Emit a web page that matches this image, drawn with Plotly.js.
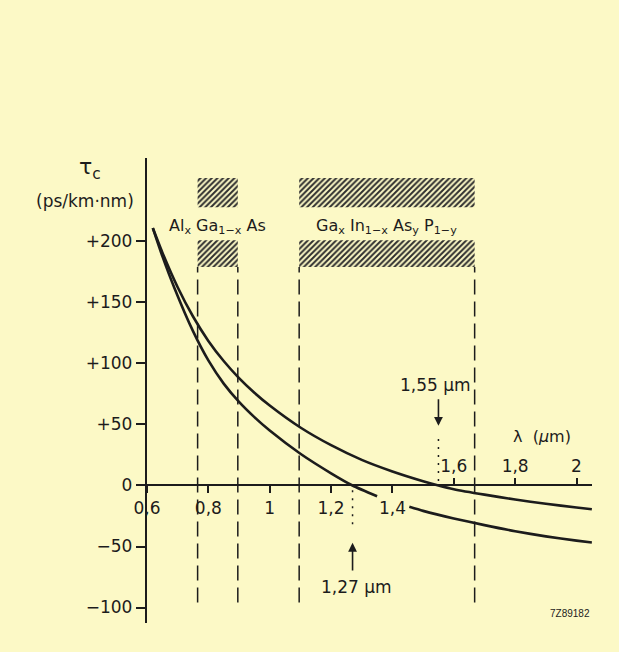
<!DOCTYPE html>
<html>
<head>
<meta charset="utf-8">
<script src="https://cdn.plot.ly/plotly-3.0.1.min.js"></script>
<style>
  html, body { margin: 0; padding: 0; background: #fcf9c6; }
  #chart { width: 619px; height: 652px; }
</style>
</head>
<body>
<div id="chart"></div>
<script>
// ---- data ----
// curve with zero dispersion at 1.27 µm (gap where the "1,4" label sits)
const lambdaA = [0.619, 0.65, 0.69, 0.75, 0.80, 0.85, 0.90, 0.95, 1.00, 1.10, 1.20, 1.27, 1.35, 1.40, 1.455, 1.50, 1.60, 1.70, 1.80, 1.90, 2.00, 2.05];
const tauA    = [211, 188, 161.5, 126.5, 102.5, 83.5, 68.5, 56, 45, 26, 10, 0, -8.8, null, -17.5, -20.8, -27, -32.5, -37.5, -41.7, -45.2, -46.7];
// curve with zero dispersion at 1.55 µm
const lambdaB = [0.619, 0.65, 0.70, 0.75, 0.80, 0.85, 0.90, 0.95, 1.00, 1.10, 1.20, 1.30, 1.40, 1.50, 1.55, 1.60, 1.70, 1.80, 1.90, 2.00, 2.05];
const tauB    = [211, 191, 162.5, 138.5, 118.5, 102, 88, 76, 65.5, 47.5, 33, 21, 11.5, 3.5, 0, -3, -7.5, -11.5, -15, -18, -19.5];

// material wavelength windows (µm)
const materialNames = ["Al<sub>x</sub> Ga<sub>1−x</sub> As", "Ga<sub>x</sub> In<sub>1−x</sub> As<sub>y</sub> P<sub>1−y</sub>"];
const materialRanges = [[0.765, 0.896], [1.096, 1.668]];
const hatchBands = [[228, 252], [179, 201]];      // τ-extent of hatched bands
const windowLineExtent = [-96, 179];               // dashed window lines
const zeroDispersion = [1.27, 1.55];
const zeroLabels = ["1,27 µm", "1,55 µm"];

const xTicksBelow = [0.6, 0.8, 1.0, 1.2, 1.4];
const xTickTextBelow = ["0,6", "0,8", "1", "1,2", "1,4"];
const xTicksAbove = [1.6, 1.8, 2.0];
const xTickTextAbove = ["1,6", "1,8", "2"];
const yTicks = [-100, -50, 0, 50, 100, 150, 200];
const yTickText = ["−100", "−50", "0", "+50", "+100", "+150", "+200"];

// ---- styling ----
const BG = "#fcf9c6";
const INK = "#1c1c1c";
const FONT = "DejaVu Sans, Liberation Sans, Arial, sans-serif";
const xRange = [0.6, 2.0505];
const yRange = [-112.7, 268.4];
const xAxisPos = (0 - yRange[0]) / (yRange[1] - yRange[0]);

const traces = [];

// hatched bands
materialRanges.forEach(r => {
  hatchBands.forEach(b => {
    traces.push({
      type: "bar", x: [(r[0] + r[1]) / 2], y: [b[1] - b[0]], base: [b[0]], width: [r[1] - r[0]],
      xaxis: "x", yaxis: "y",
      marker: { color: BG, line: { width: 0 },
        pattern: { shape: "/", fgcolor: "#2e2e2e", bgcolor: BG, size: 4, solidity: 0.5, fillmode: "replace" } },
      hoverinfo: "skip", showlegend: false
    });
  });
});

// dashed window boundary lines
materialRanges.forEach(r => {
  r.forEach(xv => {
    traces.push({
      type: "scatter", mode: "lines", x: [xv, xv], y: windowLineExtent,
      line: { color: INK, width: 1.5, dash: "15px,7px" }, hoverinfo: "skip", showlegend: false
    });
  });
});

// dotted markers at zero dispersion wavelengths
traces.push({ type: "scatter", mode: "lines", x: [zeroDispersion[1], zeroDispersion[1]], y: [38, 2],
  line: { color: INK, width: 1.5, dash: "2px,6px" }, hoverinfo: "skip", showlegend: false });
traces.push({ type: "scatter", mode: "lines", x: [zeroDispersion[0], zeroDispersion[0]], y: [-4, -36],
  line: { color: INK, width: 1.5, dash: "2px,6px" }, hoverinfo: "skip", showlegend: false });

// curves
traces.push({ type: "scatter", mode: "lines", x: lambdaA, y: tauA, connectgaps: false,
  line: { color: INK, width: 2.6, shape: "spline", smoothing: 0.6 }, showlegend: false });
traces.push({ type: "scatter", mode: "lines", x: lambdaB, y: tauB,
  line: { color: INK, width: 2.6, shape: "spline", smoothing: 0.6 }, showlegend: false });

// dummy trace for the top tick axis
traces.push({ type: "scatter", mode: "lines", x: [xRange[0]], y: [0], xaxis: "x2", yaxis: "y",
  line: { width: 0 }, hoverinfo: "skip", showlegend: false });

const annotations = [
  { x: (materialRanges[0][0] + materialRanges[0][1]) / 2, y: 212, xanchor: "center", text: materialNames[0], showarrow: false,
    font: { family: FONT, size: 16, color: INK } },
  { x: (materialRanges[1][0] + materialRanges[1][1]) / 2, y: 212, xanchor: "center", text: materialNames[1], showarrow: false,
    font: { family: FONT, size: 16, color: INK } },
  // arrows
  { x: zeroDispersion[1], y: 49, ax: zeroDispersion[1], ay: 72, axref: "x", ayref: "y", xref: "x", yref: "y",
    text: "", showarrow: true, arrowhead: 2, arrowsize: 1.1, arrowwidth: 1.6, arrowcolor: INK },
  { x: zeroDispersion[0], y: -47, ax: zeroDispersion[0], ay: -71, axref: "x", ayref: "y", xref: "x", yref: "y",
    text: "", showarrow: true, arrowhead: 2, arrowsize: 1.1, arrowwidth: 1.6, arrowcolor: INK },
  { x: 1.54, y: 82, xanchor: "center", text: zeroLabels[1], showarrow: false, font: { family: FONT, size: 17, color: INK } },
  { x: 1.283, y: -83, xanchor: "center", text: zeroLabels[0], showarrow: false, font: { family: FONT, size: 17, color: INK } },
  // axis labels
  { xref: "paper", yref: "paper", x: -0.127, y: 0.977, xanchor: "center", yanchor: "middle", text: "τ<sub>c</sub>", showarrow: false,
    font: { family: FONT, size: 22, color: INK } },
  { xref: "paper", yref: "paper", x: -0.139, y: 0.908, xanchor: "center", yanchor: "middle", text: "(ps/km·nm)", showarrow: false,
    font: { family: FONT, size: 17, color: INK } },
  { x: 1.889, y: 39.8, xanchor: "center", text: "λ  (<i>µ</i>m)", showarrow: false, font: { family: FONT, size: 16, color: INK } },
  { x: xRange[1], y: -105, xanchor: "right", text: "7Z89182", showarrow: false,
    font: { family: "Liberation Sans, Arial, sans-serif", size: 10, color: INK } }
];

const layout = {
  width: 619, height: 652,
  paper_bgcolor: BG, plot_bgcolor: BG,
  margin: { l: 147, r: 27, t: 158, b: 29, pad: 0 },
  barmode: "overlay",
  showlegend: false,
  font: { family: FONT, size: 17, color: INK },
  xaxis: {
    range: xRange, anchor: "free", position: xAxisPos, side: "bottom",
    showline: true, linecolor: INK, linewidth: 2, showgrid: false, zeroline: false,
    tickmode: "array", tickvals: xTicksBelow, ticktext: xTickTextBelow,
    ticks: "outside", ticklen: 7, tickwidth: 2, tickcolor: INK,
    tickfont: { family: FONT, size: 17, color: INK }, fixedrange: true
  },
  xaxis2: {
    range: xRange, overlaying: "x", anchor: "free", position: xAxisPos, side: "top",
    showline: false, showgrid: false, zeroline: false,
    tickmode: "array", tickvals: xTicksAbove, ticktext: xTickTextAbove,
    ticks: "outside", ticklen: 7, tickwidth: 2, tickcolor: INK,
    tickfont: { family: FONT, size: 17, color: INK }, fixedrange: true
  },
  yaxis: {
    range: yRange, showline: true, linecolor: INK, linewidth: 2.2, showgrid: false, zeroline: false,
    tickmode: "array", tickvals: yTicks, ticktext: yTickText,
    ticks: "outside", ticklen: 9, tickwidth: 2, tickcolor: INK,
    tickfont: { family: FONT, size: 17, color: INK }, fixedrange: true
  },
  annotations: annotations
};

Plotly.newPlot("chart", traces, layout, { staticPlot: true });
</script>
</body>
</html>
